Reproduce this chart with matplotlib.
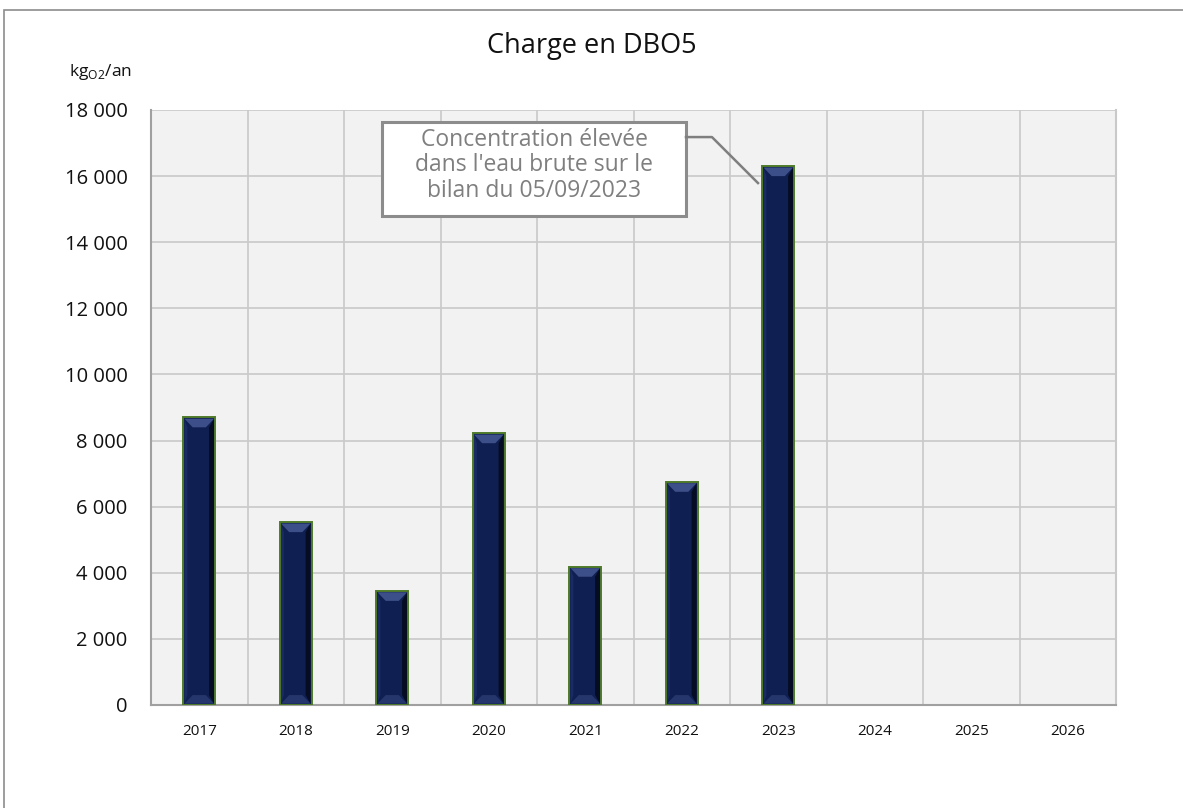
import matplotlib.pyplot as plt
import matplotlib.patches as mpatches
from matplotlib.ticker import FuncFormatter, MultipleLocator
import numpy as np

# data
years = ['2017', '2018', '2019', '2020', '2021', '2022', '2023', '2024', '2025', '2026']
charge_dbo5 = [8700, 5530, 3450, 8220, 4180, 6750, 16300, np.nan, np.nan, np.nan]

plt.rcParams['font.family'] = ['Open Sans', 'DejaVu Sans']

fig = plt.figure(figsize=(11.83, 8.08), dpi=100)
fig.patch.set_facecolor('white')
ax = fig.add_axes([151/1183, 1 - 705/808, (1116 - 151)/1183, (705 - 110)/808])
ax.set_facecolor('#f2f2f2')

# outer frame of the chart object
fig.patches.append(mpatches.Rectangle((4/1183, -0.1), 1.2, 1 - 10/808 + 0.1,
                                      transform=fig.transFigure, fill=False,
                                      edgecolor='#8c8c8c', linewidth=1.2))

x = np.arange(len(years))
w = 0.33
vals = np.array(charge_dbo5, dtype=float)
bars = ax.bar(x, vals, width=w, color='#0f1f52', edgecolor='#4f7a2a', linewidth=1.4, zorder=3)

# bevel effect on every bar (derived from bar geometry)
dx = 0.085      # horizontal bevel depth (data units)
dy = 260        # vertical bevel depth (data units)
for b in bars:
    h = b.get_height()
    if not np.isfinite(h) or h <= 0:
        continue
    L = b.get_x() + 0.012
    R = b.get_x() + b.get_width() - 0.012
    top = h - 40
    bot = 40
    # right side shadow
    ax.fill([R, R, R - dx*0.6, R - dx*0.6], [top, bot, bot + dy, top - dy],
            color='#060c22', lw=0, zorder=4)
    # left side lighter
    ax.fill([L, L, L + dx*0.35, L + dx*0.35], [top, bot, bot + dy, top - dy],
            color='#1a2b63', lw=0, zorder=4)
    # top highlight
    ax.fill([L, R, R - dx, L + dx], [top, top, top - dy, top - dy],
            color='#3d4f88', lw=0, zorder=4)
    # bottom highlight
    ax.fill([L, R, R - dx, L + dx], [bot, bot, bot + dy, bot + dy],
            color='#25366c', lw=0, zorder=4)

ax.set_xlim(-0.5, len(years) - 0.5)
ax.set_ylim(0, 18000)
ax.yaxis.set_major_locator(MultipleLocator(2000))
ax.yaxis.set_major_formatter(FuncFormatter(lambda v, p: f'{int(v):,}'.replace(',', ' ')))
ax.set_xticks(x)
ax.set_xticklabels(years)
ax.set_xticks(np.arange(len(years) + 1) - 0.5, minor=True)

ax.grid(axis='y', which='major', color='#c9c9c9', linewidth=1.2, zorder=0)
ax.grid(axis='x', which='minor', color='#c9c9c9', linewidth=1.2, zorder=0)
ax.set_axisbelow(True)

ax.spines['top'].set_visible(False)
ax.spines['right'].set_color('#c9c9c9')
ax.spines['right'].set_linewidth(1.5)
ax.spines['left'].set_color('#a0a0a0')
ax.spines['left'].set_linewidth(1.5)
ax.spines['bottom'].set_color('#a0a0a0')
ax.spines['bottom'].set_linewidth(1.5)

ax.tick_params(axis='y', which='both', length=0, labelsize=14.5, pad=17, colors='#111111')
ax.tick_params(axis='x', which='both', length=0, labelsize=11, pad=14, colors='#111111')

fig.text(0.5, 1 - 46/808, 'Charge en DBO5', ha='center', va='center', fontsize=19.5, color='#111111')
fig.text(100/1183, 1 - 72/808, r'kg$_{\mathregular{O2}}$/an', ha='center', va='center',
         fontsize=12.5, color='#111111')

# callout box (positions in data coordinates of the axes)
box_x0, box_x1 = 1.894, 5.044
box_y0, box_y1 = 14791, 17635
ax.add_patch(mpatches.Rectangle((box_x0, box_y0), box_x1 - box_x0, box_y1 - box_y0,
                                facecolor='white', edgecolor='#8c8c8c', linewidth=2.2, zorder=6))
ax.text((box_x0 + box_x1)/2, (box_y0 + box_y1)/2 + 120,
        "Concentration élevée\ndans l'eau brute sur le\nbilan du 05/09/2023",
        ha='center', va='center', fontsize=16.5, color='#7f7f7f', linespacing=1.08, zorder=7)
ax.plot([5.044, 5.313, 5.79], [17181, 17181, 15790], color='#7f7f7f', linewidth=1.8, zorder=6)

fig.savefig('out.png', dpi=100, facecolor='white')
